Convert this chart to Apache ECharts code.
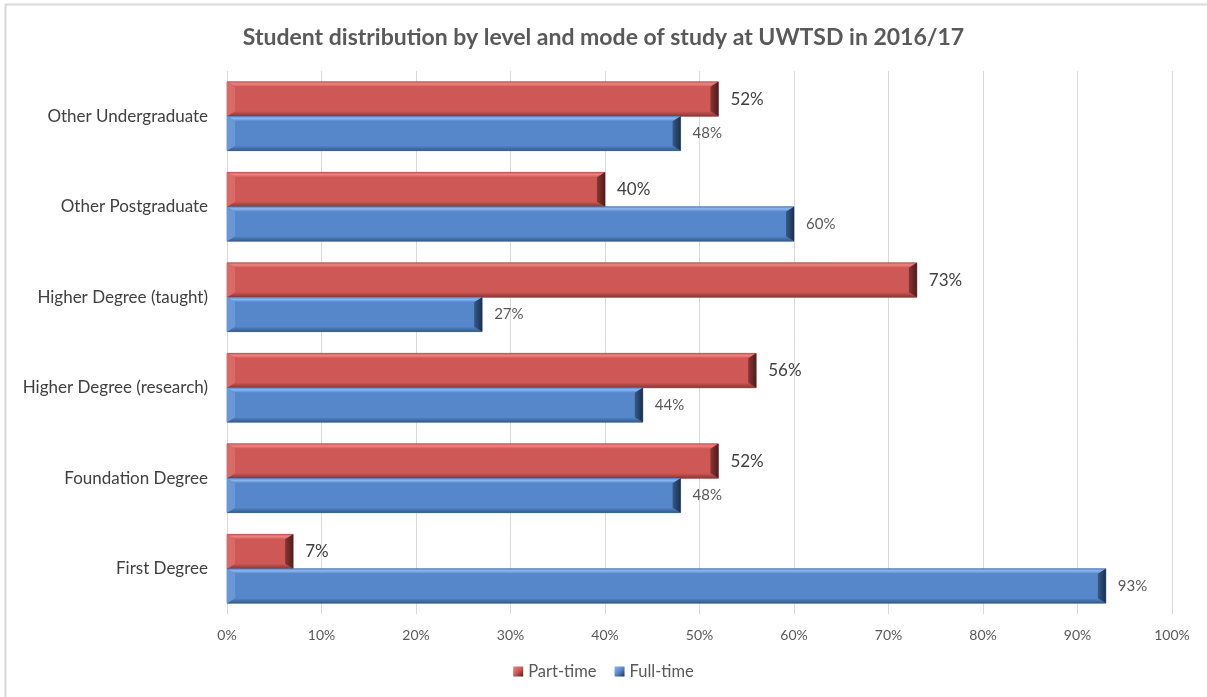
<!DOCTYPE html>
<html>
<head>
<meta charset="utf-8">
<title>Student distribution by level and mode of study at UWTSD in 2016/17</title>
<script src="https://cdn.jsdelivr.net/npm/echarts@6/dist/echarts.min.js"></script>
<style>
  html, body { margin: 0; padding: 0; background: #fff; }
  #chart { width: 1207px; height: 697px; }
</style>
</head>
<body>
<div id="chart"></div>
<script>
// Study levels, listed bottom to top on the category axis
const categories = [
  'First Degree',
  'Foundation Degree',
  'Higher Degree (research)',
  'Higher Degree (taught)',
  'Other Postgraduate',
  'Other Undergraduate'
];
// Share of students (%) per level
const partTime = [7, 52, 56, 73, 40, 52];
const fullTime = [93, 48, 44, 27, 60, 48];
const xTicks = [0, 10, 20, 30, 40, 50, 60, 70, 80, 90, 100];

const FONT = 'Lato, "Open Sans", sans-serif';

// Bevelled bar palettes
const palettes = [
  { face: '#CD5856', top: '#EE8582', bottom: '#8A3533', left: '#D86A67', right: '#4E1C1B',
    label: { fontSize: 17, color: '#404040' } },
  { face: '#5587CA', top: '#8DB7F0', bottom: '#355A8A', left: '#6A98D6', right: '#1B2F4C',
    label: { fontSize: 15, color: '#595959' } }
];

function bevelBar(seriesIdx) {
  const pal = palettes[seriesIdx];
  return function (params, api) {
    const v = api.value(0);
    const ci = api.value(1);
    const p0 = api.coord([0, ci]);
    const p1 = api.coord([v, ci]);
    const band = api.size([0, 1])[1];
    const h = band * 0.38;
    const y = seriesIdx === 0 ? p0[1] - h : p0[1];
    const x0 = p0[0], x1 = p1[0];
    const w = x1 - x0;
    const bx = Math.min(8, w / 3), by = 5;
    const poly = (pts, fill) => ({ type: 'polygon', shape: { points: pts }, style: { fill: fill } });
    return {
      type: 'group',
      children: [
        { type: 'rect', shape: { x: x0, y: y, width: w, height: h },
          style: { fill: pal.face, stroke: pal.bottom, lineWidth: 0.6 } },
        poly([[x0, y], [x1, y], [x1 - bx, y + by], [x0 + bx, y + by]],
          new echarts.graphic.LinearGradient(0, 0, 0, 1, [
            { offset: 0, color: pal.face }, { offset: 0.4, color: pal.top }, { offset: 1, color: pal.face }
          ])),
        poly([[x0, y + h], [x1, y + h], [x1 - bx, y + h - by], [x0 + bx, y + h - by]],
          new echarts.graphic.LinearGradient(0, 0, 0, 1, [
            { offset: 0, color: pal.face }, { offset: 1, color: pal.bottom }
          ])),
        poly([[x0, y], [x0 + bx, y + by], [x0 + bx, y + h - by], [x0, y + h]], pal.left),
        poly([[x1, y], [x1 - bx, y + by], [x1 - bx, y + h - by], [x1, y + h]],
          new echarts.graphic.LinearGradient(0, 0, 1, 0, [
            { offset: 0, color: pal.bottom }, { offset: 1, color: pal.right }
          ])),
        { type: 'text', x: x1 + 12, y: y + h / 2,
          style: { text: v + '%', fill: pal.label.color, fontSize: pal.label.fontSize,
                   fontFamily: FONT, verticalAlign: 'middle', align: 'left' } }
      ]
    };
  };
}

function legendSwatch(pal) {
  return new echarts.graphic.LinearGradient(0, 0, 1, 1, [
    { offset: 0, color: pal.top }, { offset: 0.5, color: pal.face }, { offset: 1, color: pal.right }
  ]);
}

const chart = echarts.init(document.getElementById('chart'), null, { renderer: 'canvas' });

chart.setOption({
  backgroundColor: '#ffffff',
  animation: false,
  title: {
    text: 'Student distribution by level and mode of study at UWTSD in 2016/17',
    left: 'center',
    top: 21,
    textStyle: { fontFamily: FONT, fontSize: 23, fontWeight: 'bold', color: '#595959' }
  },
  legend: {
    bottom: 12,
    left: 'center',
    icon: 'rect',
    itemWidth: 10,
    itemHeight: 10,
    itemGap: 18,
    textStyle: { fontFamily: FONT, fontSize: 16.5, color: '#595959' },
    data: [
      { name: 'Part-time', itemStyle: { color: legendSwatch(palettes[0]) } },
      { name: 'Full-time', itemStyle: { color: legendSwatch(palettes[1]) } }
    ]
  },
  grid: { left: 227, right: 35, top: 71, bottom: 83 },
  xAxis: {
    type: 'value',
    min: xTicks[0],
    max: xTicks[xTicks.length - 1],
    interval: xTicks[1] - xTicks[0],
    axisLine: { show: false },
    axisTick: { show: false },
    axisLabel: { formatter: '{value}%', fontFamily: FONT, fontSize: 14, color: '#595959', margin: 14 },
    splitLine: { show: true, lineStyle: { color: '#D9D9D9', width: 1 } }
  },
  yAxis: {
    type: 'category',
    data: categories,
    axisLine: { show: false },
    axisTick: { show: false },
    axisLabel: { fontFamily: FONT, fontSize: 17, color: '#404040', margin: 19 }
  },
  series: [
    {
      name: 'Part-time',
      type: 'custom',
      renderItem: bevelBar(0),
      itemStyle: { color: '#C0504D' },
      encode: { x: 0, y: 1 },
      data: partTime.map((v, i) => [v, i])
    },
    {
      name: 'Full-time',
      type: 'custom',
      renderItem: bevelBar(1),
      itemStyle: { color: '#4F81BD' },
      encode: { x: 0, y: 1 },
      data: fullTime.map((v, i) => [v, i])
    }
  ],
  graphic: [
    { type: 'rect', silent: true, z: 100,
      shape: { x: 5.5, y: 4.5, width: 1300, height: 800 },
      style: { fill: 'none', stroke: '#D9D9D9', lineWidth: 2 } }
  ]
});
</script>
</body>
</html>
